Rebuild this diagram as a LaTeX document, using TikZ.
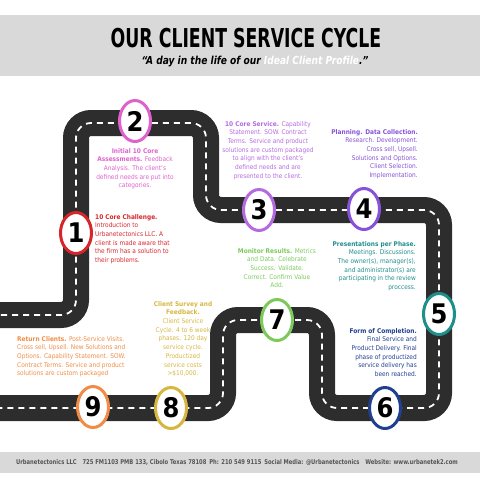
\documentclass[tikz,border=0pt]{standalone}
\usepackage{fontspec}
\setmainfont{DejaVu Sans Condensed}
\usetikzlibrary{shapes.geometric}
\definecolor{road}{HTML}{2D2D2D}
\definecolor{bandgray}{HTML}{D9D9D9}
\definecolor{footgray}{HTML}{555555}
\definecolor{cred}{HTML}{D7262B}
\definecolor{cpink}{HTML}{DE62CC}
\definecolor{cpurple}{HTML}{B56BE0}
\definecolor{cviolet}{HTML}{8552D8}
\definecolor{cteal}{HTML}{1F8F8C}
\definecolor{cnavy}{HTML}{203F8F}
\definecolor{cgreen}{HTML}{7CC95C}
\definecolor{cgold}{HTML}{D6B640}
\definecolor{corange}{HTML}{F08C45}
\begin{document}
\begin{tikzpicture}[x=1pt, y=-1pt,
  roadbed/.style={road, line width=26pt, rounded corners=15pt},
  roadmark/.style={white, line width=1.8pt, dash pattern=on 6pt off 5pt, rounded corners=15pt},
  stop/.style={ellipse, draw=#1, line width=3pt, fill=white, minimum width=31pt,
    minimum height=41pt, inner sep=0pt, font=\bfseries\fontsize{27}{27}\selectfont},
  info/.style={text=#1, inner sep=0pt, font=\fontsize{6.5}{8.7}\selectfont}]
\useasboundingbox (0,0) rectangle (480,480);
\fill[bandgray] (0,15) rectangle (480,76);
\fill[bandgray] (0,452) rectangle (480,473);

% the road
\foreach \s in {roadbed, roadmark}
{
    \draw[\s] (-10,315)--(76,315)--(76,123)--(206,123)
        --(206,210)--(439,210)--(439,408)--(322,408)--(322,320)--(223,320)--(223,408)--(-10,408);
}

\foreach \n/\x/\y/\c in {1/76/233/cred, 2/135/121/cpink, 3/259/210/cpurple, 4/364/209/cviolet,
    5/439/314/cteal, 6/385/408/cnavy, 7/277/320/cgreen, 8/171/408/cgold, 9/93/407/corange}
{
    \node[stop=\c] (s\n) at (\x,\y) {\n};
}

\node[font=\bfseries\fontsize{26}{26}\selectfont] (title) at (246,38)
    {\scalebox{0.74}[1]{OUR CLIENT SERVICE CYCLE}};
\node[font=\bfseries\itshape\fontsize{11}{11}\selectfont] (subtitle) at (255,62)
    {\scalebox{0.92}[1]{``A day in the life of our \textcolor{white}{Ideal Client Profile}.''}};

\node[info=cred, anchor=north west, align=left] (t1) at (95,214)
    {\textbf{10 Core Challenge.}\\ Introduction to\\ Urbanetectonics LLC. A\\ client is made aware that\\ the firm has a solution to\\ their problems.};
\node[info=cpink, anchor=north, align=center] (t2) at (135,148)
    {\textbf{Initial 10 Core}\\ \textbf{Assessments.} Feedback\\ Analysis. The client's\\ defined needs are put into\\ categories.};
\node[info=cpurple, anchor=north, align=center] (t3) at (268,121)
    {\textbf{10 Core Service.} Capability\\ Statement. SOW. Contract\\ Terms. Service and product\\ solutions are custom packaged\\ to align with the client's\\ defined needs and are\\ presented to the client.};
\node[info=cviolet, anchor=north east, align=right] (t4) at (418,129)
    {\textbf{Planning. Data Collection.}\\ Research. Development.\\ Cross sell, Upsell.\\ Solutions and Options.\\ Client Selection.\\ Implementation.};
\node[info=cteal, anchor=north east, align=right] (t5) at (416,241)
    {\textbf{Presentations per Phase.}\\ Meetings. Discussions.\\ The owner(s), manager(s),\\ and administrator(s) are\\ participating in the review\\ proccess.};
\node[info=cnavy, anchor=north east, align=right] (t6) at (417,328)
    {\textbf{Form of Completion.}\\ Final Service and\\ Product Delivery. Final\\ phase of productized\\ service delivery has\\ been reached.};
\node[info=cgreen, anchor=north, align=center] (t7) at (277,248)
    {\textbf{Monitor Results.} Metrics\\ and Data. Celebrate\\ Success. Validate.\\ Correct. Confirm Value\\ Add.};
\node[info=cgold, anchor=north, align=center] (t8) at (183,301)
    {\textbf{Client Survey and}\\ \textbf{Feedback.}\\ Client Service\\ Cycle. 4 to 6 week\\ phases. 120 day\\ service cycle.\\ Productized\\ service costs\\ >\$10,000.};
\node[info=corange, anchor=north west, align=left] (t9) at (17,336)
    {\textbf{Return Clients.} Post-Service Visits.\\ Cross sell, Upsell. New Solutions and\\ Options. Capability Statement. SOW.\\ Contract Terms. Service and product\\ solutions are custom packaged};

\node[font=\bfseries\fontsize{6.6}{7}\selectfont, text=footgray] (footer) at (237,463)
    {\scalebox{0.88}[1]{Urbanetectonics LLC\quad 725 FM1103 PMB 133, Cibolo Texas 78108\enspace Ph: 210 549 9115\enspace Social Media: @Urbanetectonics\quad Website: www.urbanetek2.com}};
\end{tikzpicture}
\end{document}
